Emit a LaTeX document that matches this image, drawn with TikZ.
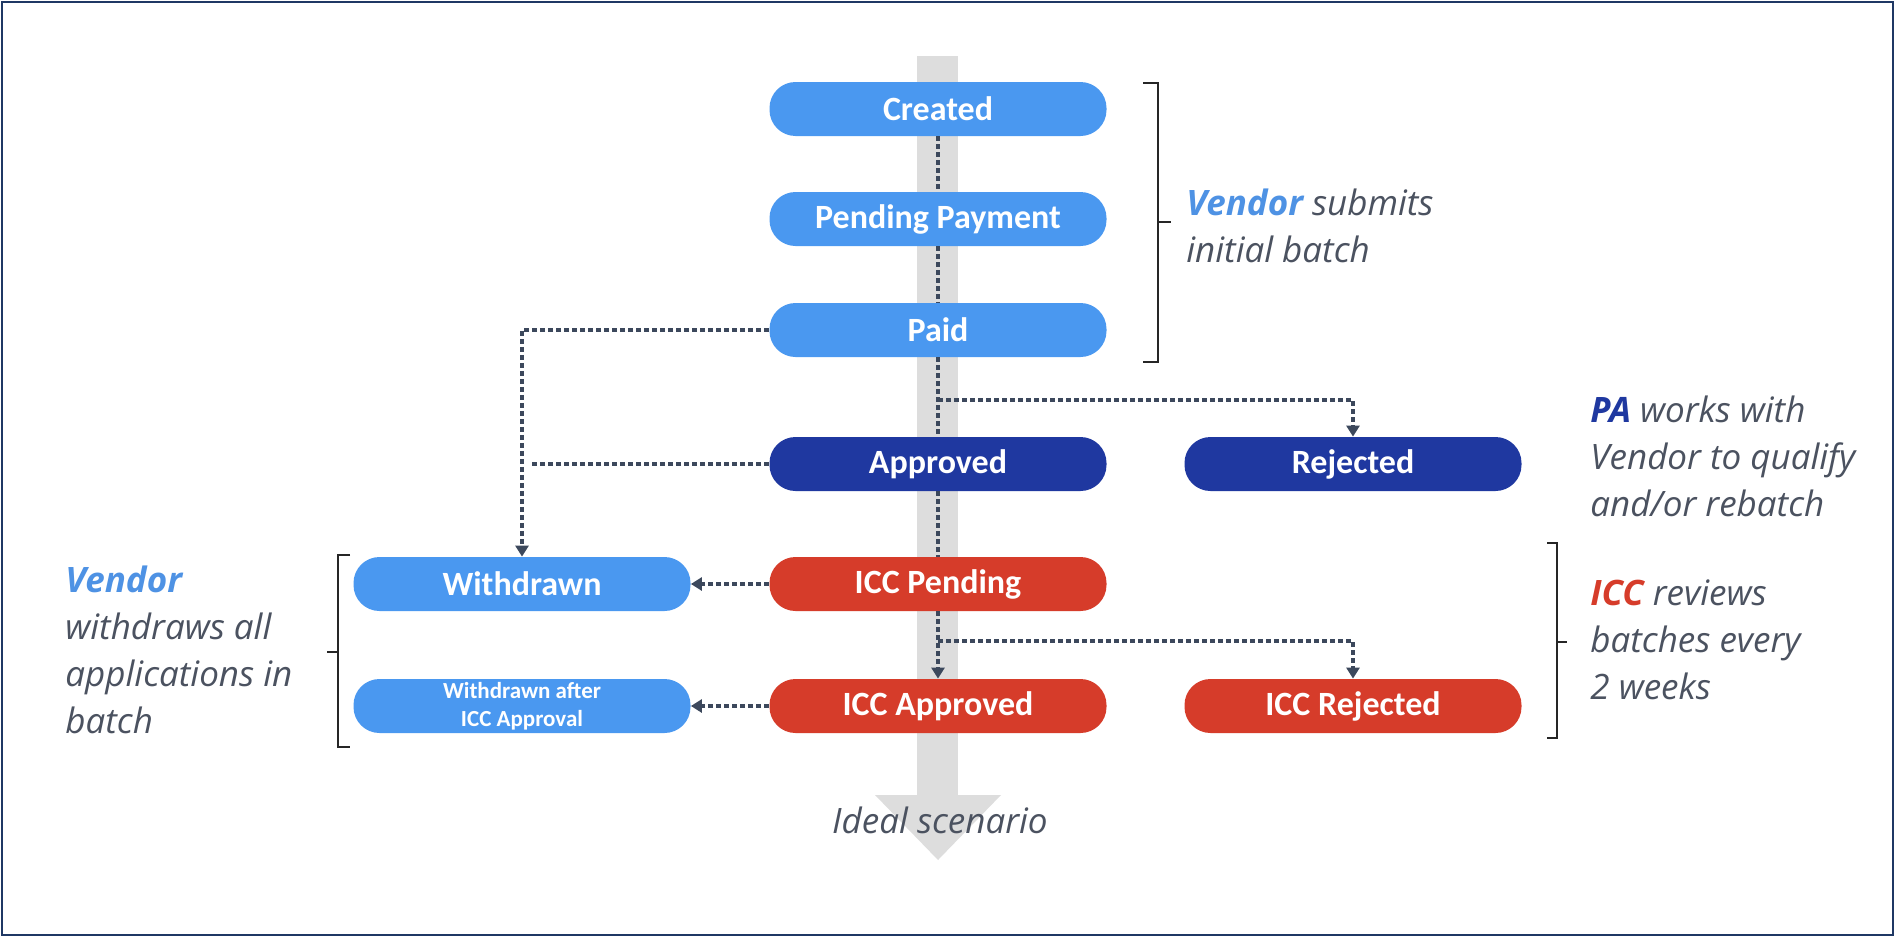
\documentclass[tikz,border=0pt]{standalone}
\usepackage{fontspec}
\setmainfont{Open Sans}
\newfontfamily\boxfont{Carlito}
\usetikzlibrary{arrows.meta}
\definecolor{lblue}{RGB}{74,152,240}
\definecolor{vblue}{RGB}{78,146,228}
\definecolor{dblue}{RGB}{31,56,160}
\definecolor{ired}{RGB}{214,60,42}
\definecolor{shaftgray}{RGB}{221,221,221}
\definecolor{conn}{RGB}{60,72,92}
\definecolor{notegray}{RGB}{75,82,96}
\definecolor{framecol}{RGB}{31,56,100}
\begin{document}
\begin{tikzpicture}[x=0.5pt,y=-0.5pt,
  state/.style={rounded corners=13pt, minimum width=168.5pt, minimum height=27pt, inner sep=0pt, text=white, font=\boxfont\fontsize{17}{20}\selectfont\bfseries},
  lb/.style={state, fill=lblue},
  db/.style={state, fill=dblue},
  rd/.style={state, fill=ired},
  flow/.style={draw=conn, line width=2pt, dash pattern=on 2.5pt off 1.5pt},
  flowarrow/.style={flow, -{Triangle[width=6.5pt,length=5.5pt]}},
  brk/.style={draw=black!85, line width=1pt},
  note/.style={anchor=base west, align=left, text=notegray, inner sep=0pt, font=\fontsize{17.5}{23.5}\selectfont\itshape}
]
\useasboundingbox (0,0) rectangle (1895,937);
\fill[white] (0,0) rectangle (1895,937);
\draw[framecol, line width=1.2pt] (2,2) rectangle (1893,935);

% ideal scenario arrow
\fill[shaftgray] (917,56) rectangle (958,796);
\fill[shaftgray] (875,795) -- (1001,795) -- (938,860) -- cycle;
\node[anchor=base, inner sep=0pt, text=notegray, font=\fontsize{17.5}{20}\selectfont\itshape] (ideal) at (940,833) {Ideal scenario};

% states
\node[lb] (cr) at (938,109) {Created};
\node[lb] (pp) at (938,219) {Pending Payment};
\node[lb] (pd) at (938,330) {Paid};
\node[db] (ap) at (938,464) {Approved};
\node[db] (rj) at (1353,464) {Rejected};
\node[rd] (ip) at (938,584) {ICC Pending};
\node[rd] (ia) at (938,706) {ICC Approved};
\node[rd] (ir) at (1353,706) {ICC Rejected};
\node[lb] (wd) at (522,584) {Withdrawn};
\node[lb, align=center, font=\boxfont\fontsize{11.5}{14}\selectfont\bfseries] (wa) at (522,706) {Withdrawn after\\ICC Approval};

% connectors
\draw[flow] (cr.south) -- (pp.north);
\draw[flow] (pp.south) -- (pd.north);
\draw[flow] (pd.south) -- (ap.north);
\draw[flow] (ap.south) -- (ip.north);
\draw[flowarrow] (ip.south) -- (ia.north);
\coordinate (b1) at (938,400);
\draw[flowarrow] (b1) -| (rj.north);
\coordinate (b2) at (938,641);
\draw[flowarrow] (b2) -| (ir.north);
\draw[flowarrow] (pd.west) -| (wd.north);
\coordinate (aj) at (531,464);
\draw[flow] (ap.west) -- (aj);
\draw[flowarrow] (ip.west) -- (wd.east);
\draw[flowarrow] (ia.west) -- (wa.east);

% brackets
\draw[brk] (1143,83) -- (1158,83) -- (1158,362) -- (1143,362);
\draw[brk] (1158,222) -- (1171,222);
\draw[brk] (1547,543) -- (1557,543) -- (1557,738) -- (1547,738);
\draw[brk] (1557,642) -- (1567,642);
\draw[brk] (350,555) -- (338,555) -- (338,747) -- (350,747);
\draw[brk] (338,652) -- (327,652);

% notes (base anchor = baseline of the last line)
\node[note] (n1) at (1186,262) {\textcolor{vblue}{\bfseries Vendor} submits\\initial batch};
\node[note] (n2) at (1590,516) {\textcolor{dblue}{\bfseries PA} works with\\Vendor to qualify\\and/or rebatch};
\node[note] (n3) at (1590,699) {\textcolor{ired}{\bfseries ICC} reviews\\batches every\\2 weeks};
\node[note] (n4) at (65,733) {\textcolor{vblue}{\bfseries Vendor}\\withdraws all\\applications in\\batch};
\end{tikzpicture}
\end{document}
